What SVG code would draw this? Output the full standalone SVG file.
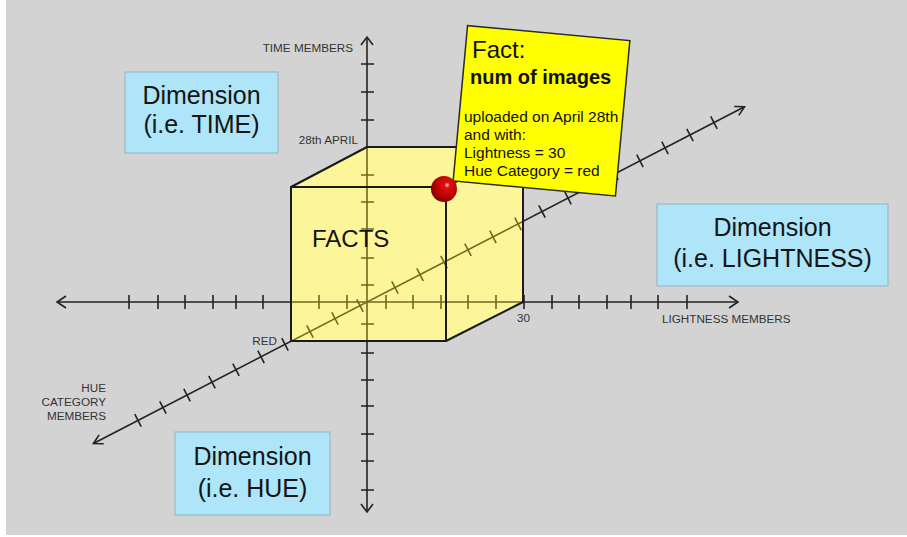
<svg xmlns="http://www.w3.org/2000/svg" xmlns:xlink="http://www.w3.org/1999/xlink" width="907" height="537" viewBox="0 0 907 537">
<style>
.lbl{font-family:"Liberation Sans",Arial,sans-serif;font-size:11.7px;fill:#333}
.big{font-family:"Liberation Sans",Arial,sans-serif;font-size:25px;fill:#141414;text-anchor:middle}
.dim{fill:#aee5f9;stroke:#8fb3c4;stroke-width:1}
.note{font-family:"Liberation Sans",Arial,sans-serif;fill:#111}
.edge{fill:none;stroke:#1a1a1a;stroke-width:2;stroke-linejoin:round}
</style>
<defs>
<radialGradient id="ball" cx="0.62" cy="0.35" r="0.7">
<stop offset="0" stop-color="#ffd0d0"/>
<stop offset="0.15" stop-color="#e01010"/>
<stop offset="0.7" stop-color="#b00000"/>
<stop offset="1" stop-color="#7a0000"/>
</radialGradient>
<clipPath id="cubeClip">
<polygon points="291,187 367,147 523,147 523,302 446,341 291,341"/>
</clipPath>
<g id="axesShapes" fill="none" stroke-width="1.6">
<line x1="58" y1="302" x2="737" y2="302"/>
<polyline points="66,296 57,302 66,308"/>
<polyline points="729,296 738,302 729,308"/>
<path d="M129 295v14M158 295v14M185 295v14M213 295v14M236 295v14M263 295v14M291 295v14M319 295v14M347 295v14M386 295v14M413 295v14M441 295v14M468 295v14M496 295v14M524 295v14M552 295v14M579 295v14M607 295v14M631 295v14M658 295v14M687 295v14"/>
<line x1="367" y1="37" x2="367" y2="512"/>
<polyline points="361,45 367,37 373,45"/>
<polyline points="361,504 367,512 373,504"/>
<path d="M361 64h13M361 92h13M361 120h13M361 175h13M361 202h13M361 229h13M361 258h13M361 285h13M361 324h13M361 353h13M361 380h13M361 406h13M361 434h13M361 461h13M361 490h13"/>
<g transform="translate(367,302) rotate(-27.34)">
<line x1="-308" y1="0" x2="425" y2="0"/>
<polyline points="-299,-5 -308,0 -299,5"/>
<polyline points="416,-5 425,0 416,5"/>
<path d="M-257.8 -7v14M-229.7 -7v14M-202.6 -7v14M-174.5 -7v14M-147.5 -7v14M-119.3 -7v14M-92.3 -7v14M-64.2 -7v14M-36 -7v14M-7.9 -7v14M31.5 -7v14M59.7 -7v14M86.7 -7v14M113.7 -7v14M141.8 -7v14M170 -7v14M197 -7v14M226.3 -7v14M253.3 -7v14M279.2 -7v14M307.3 -7v14M335.5 -7v14M363.6 -7v14M390.6 -7v14"/>
</g>
</g>
</defs>
<rect x="0" y="0" width="907" height="537" fill="#ffffff"/>
<rect x="6" y="0" width="901" height="535" fill="#d3d3d3"/>

<g id="connectors">
<use xlink:href="#axesShapes" stroke="#222"/>
</g>

<g id="cube">
<polygon points="291,187 367,147 523,147 523,302 446,341 291,341" fill="#fdf59a"/>
<use xlink:href="#axesShapes" stroke="#6e6a1c" clip-path="url(#cubeClip)"/>
<polygon class="edge" points="291,187 367,147 523,147 523,302 446,341 291,341"/>
<polyline class="edge" points="291,187 446,187 446,341"/>
<line class="edge" x1="446" y1="187" x2="523" y2="147"/>
<text x="312" y="247" font-family="'Liberation Sans',Arial,sans-serif" font-size="24" fill="#141414">FACTS</text>
</g>

<g id="axis-labels">
<text class="lbl" x="353" y="52" text-anchor="end">TIME MEMBERS</text>
<text class="lbl" x="358" y="144" text-anchor="end">28th APRIL</text>
<text class="lbl" x="517" y="322">30</text>
<text class="lbl" x="662" y="323">LIGHTNESS MEMBERS</text>
<text class="lbl" x="277" y="345" text-anchor="end">RED</text>
<text class="lbl" x="106" y="392" text-anchor="end">HUE</text>
<text class="lbl" x="106" y="406" text-anchor="end">CATEGORY</text>
<text class="lbl" x="106" y="420" text-anchor="end">MEMBERS</text>
</g>

<g id="dim-time">
<rect class="dim" x="125" y="72" width="153" height="81"/>
<text class="big" x="201.5" y="104">Dimension</text>
<text class="big" x="201.5" y="133">(i.e. TIME)</text>
</g>

<g id="dim-lightness">
<rect class="dim" x="657" y="204" width="231" height="82"/>
<text class="big" x="772.5" y="236">Dimension</text>
<text class="big" x="772.5" y="267">(i.e. LIGHTNESS)</text>
</g>

<g id="dim-hue">
<rect class="dim" x="175" y="432" width="155" height="83"/>
<text class="big" x="252.5" y="465">Dimension</text>
<text class="big" x="252.5" y="497">(i.e. HUE)</text>
</g>

<g id="fact-note">
<rect x="-81.5" y="-78" width="163" height="156" fill="#ffff00" stroke="#2a2a2a" stroke-width="1.5" transform="translate(541.5,110.8) rotate(5.3)"/>
<text class="note" x="472" y="58" font-size="24">Fact:</text>
<text class="note" x="470" y="84" font-size="20" font-weight="bold">num of images</text>
<text class="note" x="464" y="122" font-size="15.5">uploaded on April 28th</text>
<text class="note" x="464" y="140" font-size="15.5">and with:</text>
<text class="note" x="464" y="158" font-size="15.5">Lightness = 30</text>
<text class="note" x="464" y="176" font-size="15.5">Hue Category = red</text>
</g>

<g id="fact-point">
<circle cx="444" cy="189" r="13" fill="url(#ball)"/>
</g>
</svg>
